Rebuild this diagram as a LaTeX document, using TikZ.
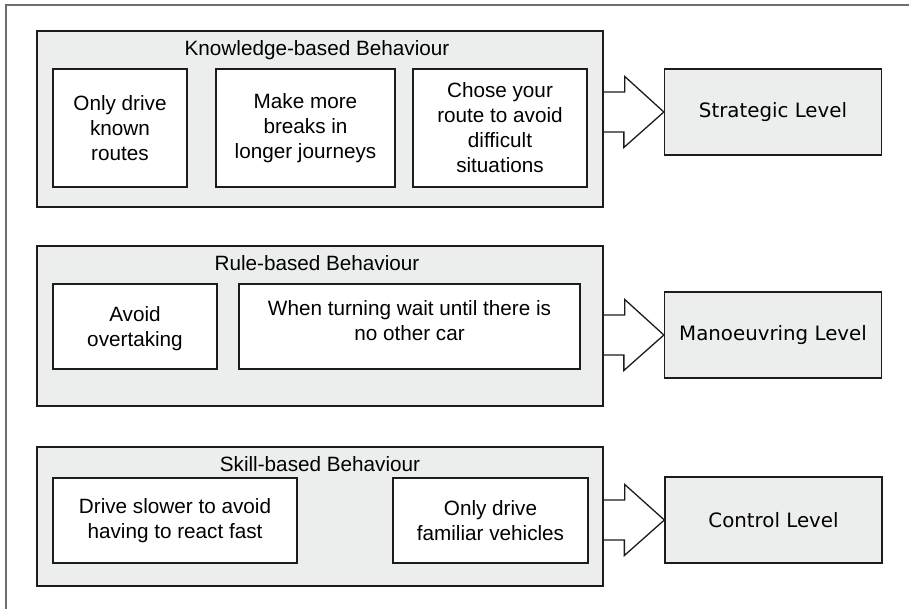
\documentclass[tikz,border=0pt]{standalone}
\usepackage{fontspec}
\setmainfont{Liberation Sans}
\newfontfamily\levelfont{DejaVu Sans}
\usetikzlibrary{calc}

\definecolor{panelgrey}{HTML}{ECEEED}
\definecolor{framegrey}{HTML}{6E6E6E}
\definecolor{edgeblack}{HTML}{1C1C1C}

\tikzset{
	behaviour/.style={draw=edgeblack, line width=1.5pt, fill=panelgrey, minimum width=566pt, inner sep=0pt},
	tactic/.style={draw=edgeblack, line width=1.3pt, fill=white, align=center, inner sep=2pt, font=\fontsize{20.7}{25}\selectfont},
	heading/.style={inner sep=0pt, font=\fontsize{20.7}{25}\selectfont},
	level/.style={draw=edgeblack, line width=1.3pt, fill=panelgrey, minimum width=217pt, minimum height=86pt, font=\levelfont\fontsize{19.8}{24}\selectfont},
	fatarrow/.style={draw=edgeblack, line width=1.3pt, line join=miter},
}

% block arrow from a behaviour panel to its level box
\newcommand{\levelarrow}[2]{%
	\draw[fatarrow] ($(#1.east |- #2.west)+(0,-20)$) -- ++(21,0) -- ++(0,-15.5)
		-- (#2.west) -- ++(-40,35.5) -- ++(0,-15.5) -- ($(#1.east |- #2.west)+(0,20)$);}

\begin{document}
\begin{tikzpicture}[x=1pt, y=-1pt]
	\useasboundingbox (0,0) rectangle (909,609);
	\draw[framegrey, line width=1.5pt] (6,609) -- (6,5) -- (909,5);

	% knowledge-based
	\node[behaviour, minimum height=176pt] (kb) at (320, 119) {};
	\node[heading] (kbtitle) at ($(kb.north)+(-3,20)$) {Knowledge-based Behaviour};
	\node[tactic, minimum width=134pt, minimum height=118pt] (known) at (120, 128)   {Only drive\\known\\routes};
	\node[tactic, minimum width=179pt, minimum height=118pt] (breaks) at (305.5, 128) {Make more\\breaks in\\longer journeys};
	\node[tactic, minimum width=174pt, minimum height=118pt] (route) at (500, 128)  {Chose your\\route to avoid\\difficult\\situations};
	\node[level] (strategic) at (773, 112) {Strategic Level};

	% rule-based
	\node[behaviour, minimum height=160pt] (rb) at (320, 326) {};
	\node[heading] (rbtitle) at ($(rb.north)+(-3,18)$) {Rule-based Behaviour};
	\node[tactic, minimum width=164pt, minimum height=85pt] (overtake) at (135, 326.5) {\mbox{}\\[-6pt]Avoid\\overtaking};
	\node[tactic, minimum width=341pt, minimum height=85pt] (turning) at (409.5, 326.5) {When turning wait until there is\\no other car\\[-13pt]};
	\node[level] (manoeuvring) at (773, 335) {Manoeuvring Level};

	% skill-based
	\node[behaviour, minimum height=139pt] (sb) at (320, 516.5) {};
	\node[heading] (sbtitle) at ($(sb.north)+(0,18)$) {Skill-based Behaviour};
	\node[tactic, minimum width=244pt, minimum height=85pt] (slower) at (175, 520.5) {Drive slower to avoid\\having to react fast};
	\node[tactic, minimum width=195pt, minimum height=85pt] (familiar) at (490.5, 520.5) {Only drive\\familiar vehicles};
	\node[level] (control) at (773.5, 520) {Control Level};

	\levelarrow{kb}{strategic}
	\levelarrow{rb}{manoeuvring}
	\levelarrow{sb}{control}
\end{tikzpicture}
\end{document}
